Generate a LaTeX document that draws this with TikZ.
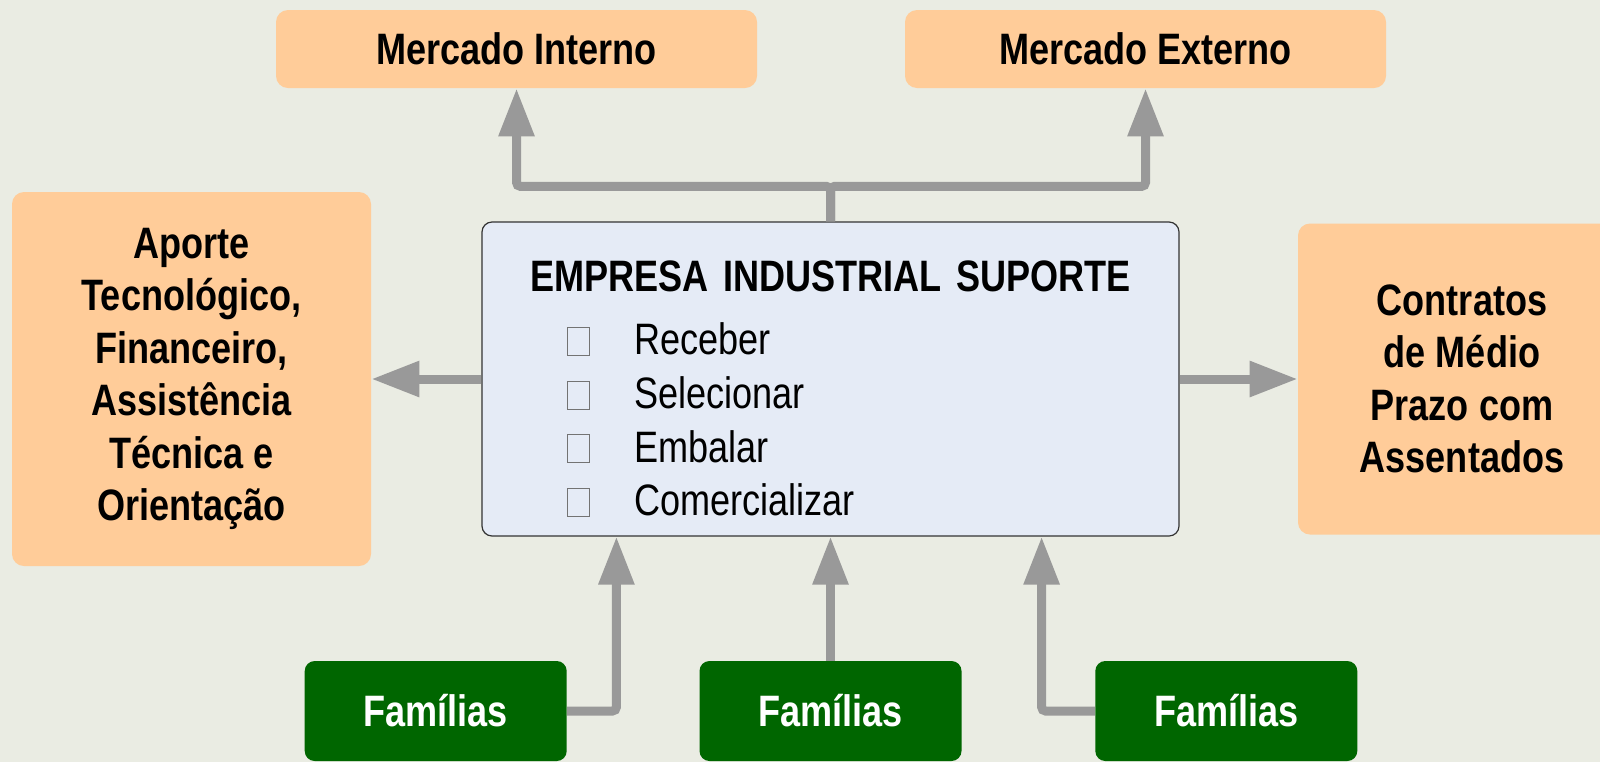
\documentclass[tikz,border=0pt]{standalone}
\usepackage{fontspec}
\setmainfont[FakeStretch=0.82]{Liberation Sans}
\usetikzlibrary{positioning,arrows.meta}

\definecolor{fundo}{HTML}{EAECE3}
\definecolor{pessego}{HTML}{FFCC99}
\definecolor{verde}{HTML}{006600}
\definecolor{azulclaro}{HTML}{E5EBF6}
\definecolor{cinza}{HTML}{999999}

\newcommand{\caixa}{{\setlength{\fboxsep}{0pt}\setlength{\fboxrule}{0.5pt}\color{black!55}\fbox{\rule{0pt}{13.5pt}\rule{10.5pt}{0pt}}}}

\begin{document}
\begin{tikzpicture}[
  font=\fontsize{22pt}{26.8pt}\selectfont,
  laranja/.style={fill=pessego,rounded corners=6pt,align=center,font=\fontsize{22pt}{26.2pt}\selectfont\bfseries},
  familia/.style={fill=verde,text=white,rounded corners=5pt,minimum width=131pt,minimum height=50pt,font=\fontsize{22pt}{26pt}\selectfont\bfseries},
  empresabox/.style={draw=black!80,line width=0.6pt,fill=azulclaro,rounded corners=5pt,minimum width=348.5pt,minimum height=157pt,text width=330pt,align=left},
  seta/.style={draw=cinza,line width=4.5pt,rounded corners=2pt,-{Triangle[length=24pt,width=17pt]}},
]
  % fundo
  \fill[fundo] (0,0) rectangle (800pt,-381pt);
  \useasboundingbox (0,0) rectangle (800pt,-381pt);

  % Empresa
  \node[empresabox] (empresa) at (415.25pt,-189.5pt) {%
    \makebox[\linewidth]{\rule{0pt}{25pt}\bfseries EMPRESA INDUSTRIAL SUPORTE}\\[5pt]
    \hspace*{33.25pt}\caixa\hspace{22pt}Receber\\
    \hspace*{33.25pt}\caixa\hspace{22pt}Selecionar\\
    \hspace*{33.25pt}\caixa\hspace{22pt}Embalar\\
    \hspace*{33.25pt}\caixa\hspace{22pt}Comercializar};

  % Mercados
  \node[laranja,minimum width=240.5pt,minimum height=39pt,above=66.5pt of empresa,xshift=-157pt] (interno) {Mercado Interno};
  \node[laranja,minimum width=240.5pt,minimum height=39pt,above=66.5pt of empresa,xshift=157.5pt] (externo) {Mercado Externo};
  \coordinate[above=17.5pt of empresa.north] (juncao);

  % Laterais
  \node[laranja,minimum width=179.5pt,minimum height=187pt,left=55pt of empresa] (aporte)
    {Aporte\\Tecnológico,\\Financeiro,\\Assistência\\Técnica e\\Orientação};
  \node[laranja,minimum width=164pt,minimum height=155.5pt,right=59pt of empresa] (contratos)
    {Contratos\\de Médio\\Prazo com\\Assentados};

  % Familias
  \node[familia,below=62pt of empresa] (fam2) {Famílias};
  \node[familia,left=66pt of fam2] (fam1) {Famílias};
  \node[familia,right=66.5pt of fam2] (fam3) {Famílias};

  % Setas
  \draw[seta] (empresa.north) -- (juncao) -| (interno.south);
  \draw[seta] (empresa.north) -- (juncao) -| (externo.south);
  \draw[seta] (empresa.west) -- (empresa.west -| aporte.east);
  \draw[seta] (empresa.east) -- (empresa.east -| contratos.west);
  \draw[seta] (fam1.east) -| ([xshift=67.5pt]empresa.south west);
  \draw[seta] (fam2.north) -- (empresa.south);
  \draw[seta] (fam3.west) -| ([xshift=-69pt]empresa.south east);
\end{tikzpicture}
\end{document}
